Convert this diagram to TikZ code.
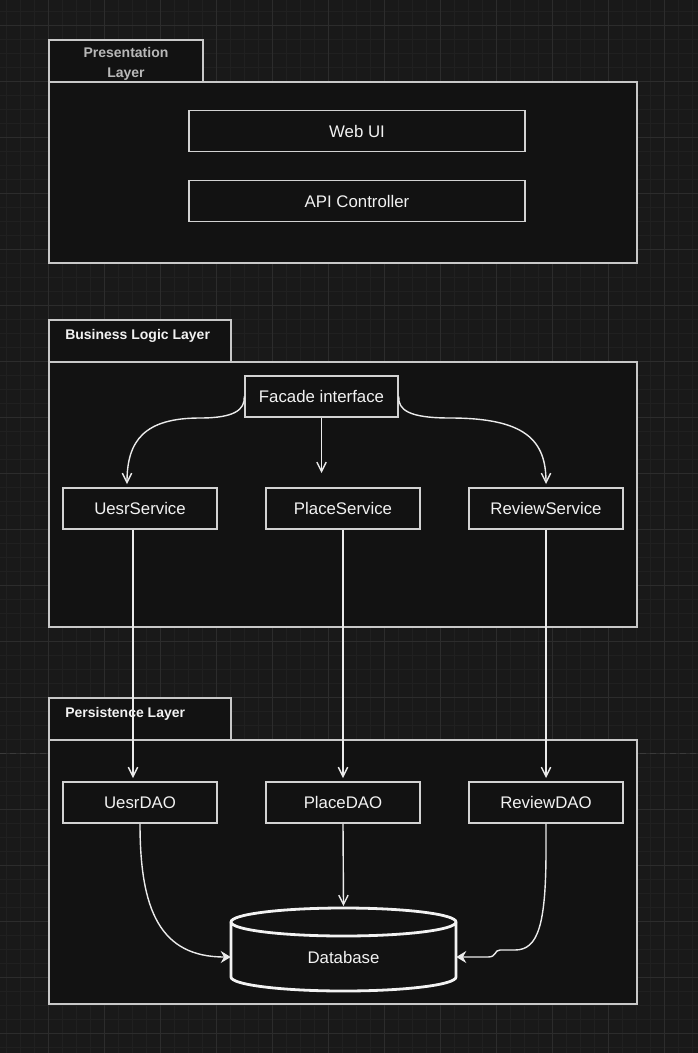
\documentclass[tikz,border=0pt]{standalone}
\usepackage{fontspec}
\setmainfont{Liberation Sans}
\usetikzlibrary{arrows.meta,calc}

\definecolor{canvas}{HTML}{191919}
\definecolor{gridminor}{HTML}{202020}
\definecolor{gridmajor}{HTML}{2C2C2C}
\definecolor{pagebreak}{HTML}{3A3A3A}
\definecolor{panel}{HTML}{121212}
\definecolor{frame}{HTML}{C8C8C8}
\definecolor{boxline}{HTML}{D2D2D2}
\definecolor{wire}{HTML}{EBEBEB}
\definecolor{ink}{HTML}{F2F2F2}
\definecolor{dimink}{HTML}{B8B8B8}

\begin{document}
\begin{tikzpicture}[x=0.75pt,y=-0.75pt,
  container/.style={draw=frame, fill=panel, line width=1.05pt},
  box/.style={draw=boxline, fill=panel, line width=1.05pt, minimum height=30.75pt,
    inner sep=0pt, text=ink, font=\fontsize{12.6}{15}\selectfont},
  wide/.style={box, minimum width=252pt},
  svc/.style={box, minimum width=115.5pt},
  tablabel/.style={font=\bfseries\fontsize{10.5}{15}\selectfont, text=ink, inner sep=0pt},
  flow/.style={draw=wire, line width=1.05pt, -{Straight Barb[length=7pt,width=7pt]}},
  feed/.style={draw=wire, line width=1.05pt, -{Stealth[length=7.5pt,width=9pt,inset=2.5pt]}},
]
\useasboundingbox (0,0) rectangle (698,1053);

% canvas and grid
\fill[canvas] (0,0) rectangle (698,1053);
\foreach \gx in {6,20,...,698} \draw[gridminor, line width=0.6pt] (\gx,0) -- (\gx,1053);
\foreach \gy in {11,25,...,1053} \draw[gridminor, line width=0.6pt] (0,\gy) -- (698,\gy);
\foreach \gx in {48,104,...,698} \draw[gridmajor, line width=0.75pt] (\gx,0) -- (\gx,1053);
\foreach \gy in {25,81,...,1053} \draw[gridmajor, line width=0.75pt] (0,\gy) -- (698,\gy);
\draw[pagebreak, line width=1pt, dash pattern=on 4.5pt off 3pt] (0,753.5) -- (698,753.5);

% presentation layer
\draw[container] (49,82) rectangle (637,263);
\draw[container] (49,40) rectangle (203,82);
\node[tablabel, text=dimink, align=center] (presTitle) at (126,63.5) {Presentation\\Layer};
\node[wide] (web) at (357,131) {Web UI};
\node[wide] (api) at (357,201) {API Controller};

% business logic layer
\draw[container] (49,362) rectangle (637,627);
\draw[container] (49,320) rectangle (231,362);
\node[tablabel, anchor=west] (bizTitle) at (65,336) {Business Logic Layer};
\node[box, minimum width=114.75pt] (fac) at (321.5,396.5) {Facade interface};
\node[svc] (us) at (140,508.5) {UesrService};
\node[svc] (ps) at (343,508.5) {PlaceService};
\node[svc] (rs) at (546,508.5) {ReviewService};

% persistence layer
\draw[container] (49,740) rectangle (637,1004);
\draw[container] (49,698) rectangle (231,740);
\node[tablabel, anchor=west] (perTitle) at (65,714) {Persistence Layer};
\node[svc] (udao) at (140,802.5) {UesrDAO};
\node[svc] (pdao) at (343,802.5) {PlaceDAO};
\node[svc] (rdao) at (546,802.5) {ReviewDAO};

% database cylinder
\draw[draw=ink, fill=panel, line width=2.1pt]
  (231,922) -- (231,977)
  .. controls (231,984.7) and (281.37,991) .. (343.5,991)
  .. controls (405.63,991) and (456,984.7) .. (456,977)
  -- (456,922)
  .. controls (456,914.27) and (405.63,908) .. (343.5,908)
  .. controls (281.37,908) and (231,914.27) .. (231,922) -- cycle;
\draw[draw=ink, line width=2.1pt]
  (231,922) .. controls (231,929.73) and (281.37,936) .. (343.5,936)
  .. controls (405.63,936) and (456,929.73) .. (456,922);
\node[minimum width=168.75pt, minimum height=1pt, inner sep=0pt, text=ink,
  font=\fontsize{12.6}{15}\selectfont] (db) at (343.5,957) {Database};

% arrow end points
\coordinate (usTop) at (127,484);
\coordinate (psTop) at (321.5,473);
\coordinate (rsTop) at (546,484);
\coordinate (udaoTop) at (133,778);
\coordinate (pdaoTop) at (343,778);
\coordinate (rdaoTop) at (546,778);
\coordinate (dbTop) at (343.5,906);

% facade to services
\draw[flow] (fac.west) .. controls (245,410) and (234,418) .. (200,418)
  .. controls (145,418) and (127,440) .. (usTop);
\draw[flow] (fac.south) -- (psTop);
\draw[flow] (fac.east) .. controls (398,410) and (409,418) .. (450,418)
  .. controls (525,418) and (546,440) .. (rsTop);

% services to DAOs
\draw[flow] ([xshift=-5.25pt]us.south) -- (udaoTop);
\draw[flow] (ps.south) -- (pdaoTop);
\draw[flow] (rs.south) -- (rdaoTop);

% DAOs to database
\draw[feed] (udao.south) .. controls (140,910) and (160,957) .. (db.west);
\draw[flow] (pdao.south) -- (dbTop);
\draw[feed] (rdao.south) -- (546,850)
  .. controls (546,925) and (538,950) .. (515,950) -- (500,950)
  .. controls (494,950) and (497,957) .. (488,957) -- (db.east);
\end{tikzpicture}
\end{document}
